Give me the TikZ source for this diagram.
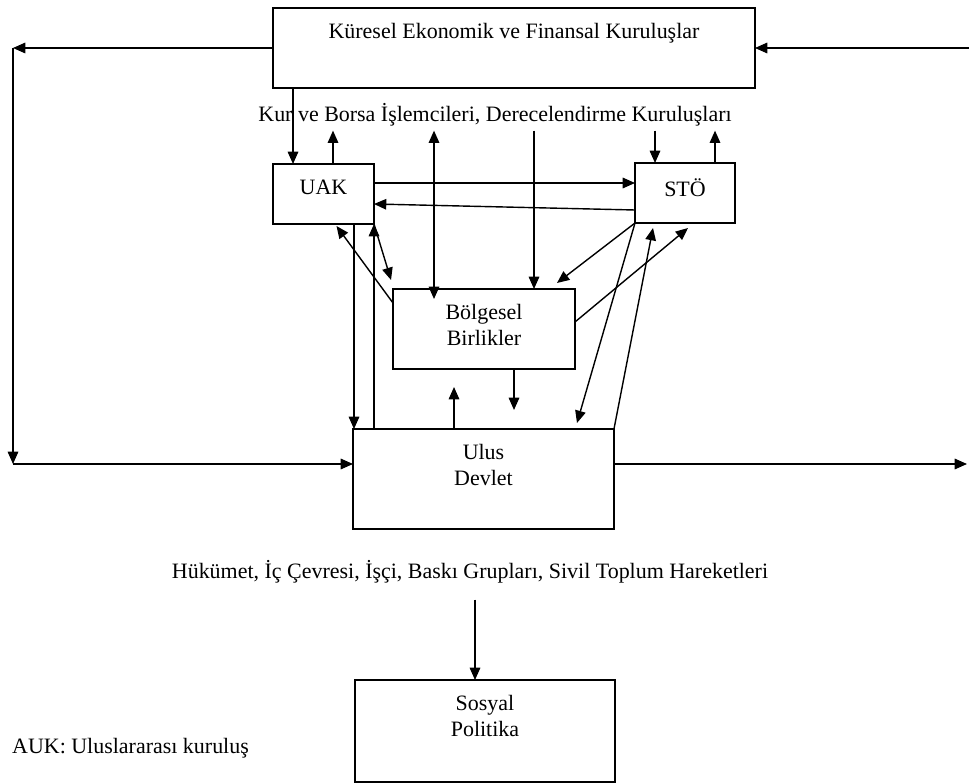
\documentclass[tikz,border=0pt]{standalone}
\usepackage{fontspec}
\setmainfont{Liberation Serif}
\usetikzlibrary{arrows.meta, positioning, calc}

\tikzset{
  box/.style={draw, rectangle, inner sep=0pt, outer sep=0pt},
  lbl/.style={anchor=north, align=center, yshift=-0.18cm},
  txt/.style={inner sep=2pt},
}

\begin{document}
\begin{tikzpicture}[x=0.02cm, y=-0.02cm, line width=0.8pt,
  >={Triangle[length=7pt,width=6pt]}, font=\fontsize{12.5pt}{14.5pt}\selectfont]
\useasboundingbox (0,0) rectangle (969,783);
% boxes
\node[box, minimum width=9.64cm, minimum height=1.6cm, label={[lbl]north:Küresel Ekonomik ve Finansal Kuruluşlar}] (kures) at (514,48) {};
\node[box, minimum width=2.02cm, minimum height=1.2cm, label={[lbl]north:UAK}] (uak) at (323.5,194) {};
\node[box, minimum width=2cm, minimum height=1.2cm, label={[lbl]north:STÖ}] (sto) at (685,193) {};
\node[box, minimum width=3.64cm, minimum height=1.6cm, label={[lbl]north:Bölgesel\\Birlikler}] (bolg) at (484,329) {};
\node[box, minimum width=5.22cm, minimum height=2cm, label={[lbl]north:Ulus\\Devlet}] (ulus) at (483.5,479) {};
\node[box, minimum width=5.2cm, minimum height=2.04cm, label={[lbl]north:Sosyal\\Politika}] (sosyal) at (485,731) {};

% free texts
\node[txt] (kur) at (495,115) {Kur ve Borsa İşlemcileri, Derecelendirme Kuruluşları};
\node[txt] (huk) at (470,572) {Hükümet, İç Çevresi, İşçi, Baskı Grupları, Sivil Toplum Hareketleri};
\node[txt, anchor=west] (auk) at (8,748) {AUK: Uluslararası kuruluş};

% outer loop
\coordinate (ltop) at (13,48);
\coordinate (lbot) at (13,464);
\coordinate (rtop) at (969,48);
\coordinate (rbot) at (967,464);
\draw[->] (kures.west) -- (ltop);
\draw[->] (ltop) -- (lbot);
\draw[->] (lbot) -- (lbot -| ulus.west);
\draw[->] (rtop) -- (kures.east);
\draw[->] (rbot -| ulus.east) -- (rbot);

% top links
\draw[->] (kures.south -| 293,0) -- (uak.north -| 293,0);
\draw[->] (uak.north -| 333,0) -- (kur.south -| 333,0);
\draw[->] (sto.north -| 715,0) -- (kur.south -| 715,0);
\draw[->] (kur.south -| 655,0) -- (sto.north -| 655,0);
\draw[->] (kur.south -| 534,0) -- (bolg.north -| 534,0);
\draw[<->] (kur.south -| 434,0) -- ($(bolg.north -| 434,0)+(0,10)$);

% UAK - STÖ
\draw[->] (uak.east |- 0,183) -- (sto.west |- 0,183);
\draw[->] (sto.west |- 0,210) -- (uak.east |- 0,204);

% UAK - Bölgesel - Ulus
\draw[->] (uak.south -| 354,0) -- (ulus.north -| 354,0);
\draw[->] (ulus.north -| 374,0) -- (uak.south -| 374,0);
\draw[->] (uak.south east) -- ($(bolg.north west)+(-2,-9)$);
\draw[->] ($(bolg.north west)+(0,14)$) -- ($(uak.south)+(13,2)$);

% STÖ - Bölgesel - Ulus
\draw[->] (sto.south west) -- ($(bolg.north east)+(-18,-6)$);
\draw[->] (bolg.east |- 0,322) -- ($(sto.south)+(3,5)$);
\draw[->] (sto.south west) -- ($(ulus.north east)+(-37,-6)$);
\draw[->] (ulus.north east) -- ($(sto.south)+(-32,5)$);

% Bölgesel - Ulus
\draw[->] (ulus.north -| 454,0) -- ($(bolg.south -| 454,0)+(0,18)$);
\draw[->] (bolg.south -| 514,0) -- ($(ulus.north -| 514,0)+(0,-19)$);

% Ulus - Sosyal
\draw[->] ($(huk.south -| 475,0)+(0,12)$) -- (sosyal.north -| 475,0);
\end{tikzpicture}
\end{document}
